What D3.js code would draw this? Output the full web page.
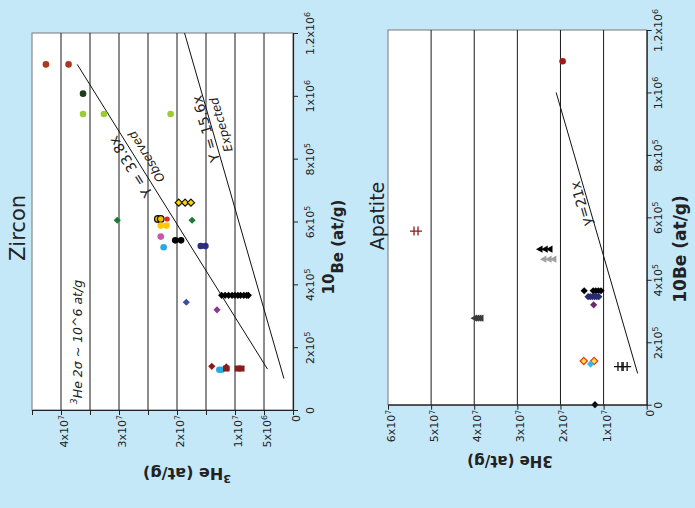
<!DOCTYPE html>
<html lang="en">
<head>
<meta charset="utf-8">
<title>Zircon / Apatite 3He vs 10Be</title>
<style>
  html, body {padding: 0; margin: 0; overflow: hidden; background: #c5e8f9}
  svg {display: block}
  text {font-family: "DejaVu Sans", sans-serif; fill: #222}
</style>
</head>
<body>
<svg width="695" height="508"></svg>
<script src="https://d3js.org/d3.v7.min.js"></script>
<script>

// ---- data: [3He (at/g), 10Be (at/g)] ----
var zrBrown      = [[4.26e7, 1.10e6], [3.87e7, 1.10e6]];
var zrDarkGreen  = [[3.62e7, 1.007e6]];
var zrLime       = [[3.62e7, 9.42e5], [3.26e7, 9.42e5], [2.11e7, 9.42e5]];
var zrYellowDia  = [[1.97e7, 6.6e5], [1.86e7, 6.6e5], [1.76e7, 6.6e5]];
var zrGreenDia   = [[3.03e7, 6.04e5], [1.74e7, 6.04e5]];
var zrYellowRing = [[2.33e7, 6.08e5], [2.28e7, 6.08e5]];
var zrRed        = [[2.17e7, 6.08e5]];
var zrGold       = [[2.28e7, 5.87e5], [2.18e7, 5.87e5]];
var zrPink       = [[2.28e7, 5.52e5]];
var zrBlack      = [[2.03e7, 5.4e5], [1.93e7, 5.4e5]];
var zrNavy       = [[1.59e7, 5.22e5], [1.51e7, 5.22e5]];
var zrSky        = [[2.23e7, 5.18e5], [1.27e7, 1.28e5], [1.23e7, 1.28e5]];
var zrBlueDia    = [[1.84e7, 3.43e5]];
var zrPurpleDia  = [[1.31e7, 3.19e5]];
var zrBlackDia   = [[1.23e7, 3.65e5], [1.17e7, 3.65e5], [1.11e7, 3.65e5], [1.05e7, 3.65e5], [1.0e7, 3.65e5],
                    [9.5e6, 3.65e5], [9.05e6, 3.65e5], [8.5e6, 3.65e5], [8.0e6, 3.65e5], [7.7e6, 3.65e5]];
var zrMaroonDia  = [[1.40e7, 1.39e5]];
var zrMaroonTri  = [[1.15e7, 1.36e5]];
var zrMaroonSq   = [[1.15e7, 1.32e5], [9.5e6, 1.32e5], [8.9e6, 1.32e5]];
var zrObserved   = [[4.39e6, 1.3e5], [3.72e7, 1.1e6]];
var zrExpected   = [[1.56e6, 1.0e5], [1.87e7, 1.2e6]];

var apMaroonDot  = [[1.95e7, 1.1e6]];
var apMaroonPlus = [[5.35e7, 5.56e5]];
var apBlackTri   = [[2.48e7, 4.98e5], [2.36e7, 4.98e5], [2.25e7, 4.98e5]];
var apGreyTri    = [[2.39e7, 4.66e5], [2.27e7, 4.66e5], [2.16e7, 4.66e5]];
var apDarkTri    = [[4.0e7, 2.77e5], [3.95e7, 2.77e5], [3.9e7, 2.77e5], [3.85e7, 2.77e5]];
var apBlackDia   = [[1.45e7, 3.65e5], [1.24e7, 3.65e5], [1.18e7, 3.65e5], [1.12e7, 3.65e5], [1.06e7, 3.65e5], [1.2e7, 0]];
var apNavyDia    = [[1.36e7, 3.46e5], [1.31e7, 3.46e5], [1.26e7, 3.46e5], [1.21e7, 3.46e5], [1.16e7, 3.46e5], [1.11e7, 3.46e5]];
var apPurpleDia  = [[1.23e7, 3.2e5]];
var apYellowDia  = [[1.46e7, 1.4e5], [1.22e7, 1.4e5]];
var apSkyDia     = [[1.3e7, 1.3e5]];
var apBlackPlus  = [[6.2e6, 1.22e5], [5.0e6, 1.22e5]];
var apFit        = [[2.1e6, 1.0e5], [2.1e7, 1.0e6]];

var zrHeTicks = [0, 5e6, 1e7, 1.5e7, 2e7, 2.5e7, 3e7, 3.5e7, 4e7, 4.5e7];
var zrHeLabels = [0, 5e6, 1e7, 2e7, 3e7, 4e7];
var apHeTicks = [0, 1e7, 2e7, 3e7, 4e7, 5e7, 6e7];
var beTicks = [0, 2e5, 4e5, 6e5, 8e5, 1e6, 1.2e6];

var svg = d3.select("svg");

function markerPath(shape) {
  switch (shape) {
    case "circle":  return "M3.3,0A3.3,3.3 0 1,1 -3.3,0A3.3,3.3 0 1,1 3.3,0Z";
    case "small":   return "M2.6,0A2.6,2.6 0 1,1 -2.6,0A2.6,2.6 0 1,1 2.6,0Z";
    case "diamond": return "M0,-3.6L3.6,0L0,3.6L-3.6,0Z";
    case "tri":     return "M-3.8,0L2.8,-3.6L2.8,3.6Z";
    case "house":   return "M-3.2,-0.5L0,-4L3.2,-0.5L3.2,3.5L-3.2,3.5Z";
    case "square":  return "M-3.2,-3L3.2,-3L3.2,3L-3.2,3Z";
    case "plus":    return "M-6,0L6,0M-2,-4.5L-2,4.5M2,-4.5L2,4.5";
  }
}

function superLabel(sel, v) {
  sel.text(null);
  if (v === 0) { sel.append("tspan").text("0"); return; }
  var e = Math.floor(Math.log10(v) + 1e-9);
  var m = +(v / Math.pow(10, e)).toFixed(1);
  sel.append("tspan").text(m + "x10");
  sel.append("tspan").attr("dy", "-0.45em").attr("font-size", "0.72em").text(e);
}

function panel(o) {
  var x = d3.scaleLinear().domain(o.heDomain).range(o.xRange);
  var y = d3.scaleLinear().domain([0, 1.2e6]).range(o.yRange);
  var g = svg.append("g");

  g.append("rect")
    .attr("x", o.xRange[1]).attr("y", o.yRange[1])
    .attr("width", o.xRange[0] - o.xRange[1]).attr("height", o.yRange[0] - o.yRange[1])
    .attr("fill", "#fff").attr("stroke", "#8a8a8a").attr("stroke-width", 1.2);

  g.selectAll("line.grid")
    .data(o.grid)
    .join("line")
    .attr("class", "grid")
    .attr("x1", function(d) { return x(d); }).attr("x2", function(d) { return x(d); })
    .attr("y1", o.yRange[0]).attr("y2", o.yRange[1])
    .attr("stroke", "#1a1a1a").attr("stroke-width", 1);

  // fit lines
  o.lines.forEach(function(l) {
    g.append("line")
      .attr("x1", x(l[0][0])).attr("y1", y(l[0][1]))
      .attr("x2", x(l[1][0])).attr("y2", y(l[1][1]))
      .attr("stroke", "#111").attr("stroke-width", 1);
  });

  // markers
  o.series.forEach(function(s) {
    g.selectAll(null)
      .data(s.data)
      .join("path")
      .attr("d", markerPath(s.shape))
      .attr("transform", function(d) { return "translate(" + x(d[0]) + "," + y(d[1]) + ")"; })
      .attr("fill", s.shape === "plus" ? "none" : s.fill)
      .attr("stroke", s.stroke || (s.shape === "plus" ? s.fill : "none"))
      .attr("stroke-width", s.sw || 1.3);
  });

  // bottom axis (3He)
  var ax = g.append("g")
    .attr("transform", "translate(0," + o.yRange[0] + ")")
    .call(d3.axisBottom(x).tickValues(o.heTicks).tickSize(5).tickSizeOuter(0).tickFormat(""));
  ax.selectAll(".tick text").each(function(d) {
    var t = d3.select(this);
    if (o.heLabels.indexOf(d) < 0) { t.remove(); return; }
    t.attr("transform", "translate(" + o.bx + ",5) rotate(-90)")
      .attr("y", 0).attr("dy", 0)
      .attr("text-anchor", "end").attr("fill", "#222");
    superLabel(t, d);
  });

  // right axis (10Be)
  var ay = g.append("g")
    .attr("transform", "translate(" + o.xRange[0] + ",0)")
    .call(d3.axisRight(y).tickValues(beTicks).tickSize(5).tickSizeOuter(0).tickFormat(""));
  ay.selectAll(".tick text").each(function(d) {
    var t = d3.select(this);
    t.attr("transform", "translate(" + o.rx + ",0) rotate(-90)")
      .attr("x", 0).attr("dy", 0)
      .attr("text-anchor", "middle").attr("fill", "#222");
    superLabel(t, d);
  });
  g.selectAll(".domain").attr("stroke", "#222").attr("stroke-width", 1.2);
  g.selectAll(".tick line").attr("stroke", "#222");
  g.selectAll(".tick text").attr("font-size", 11).attr("font-family", "DejaVu Sans, sans-serif");

  return {g: g, x: x, y: y};
}

function lineLabel(p, line, at, main, sub, mainSize, dyMain) {
  var x0 = p.x(line[0][0]), y0 = p.y(line[0][1]), x1 = p.x(line[1][0]), y1 = p.y(line[1][1]);
  var cx = x0 + (x1 - x0) * at, cy = y0 + (y1 - y0) * at;
  var ang = Math.atan2(y1 - y0, x1 - x0) * 180 / Math.PI;
  var t = p.g.append("g").attr("transform", "translate(" + cx + "," + cy + ") rotate(" + ang + ")");
  t.append("text").attr("text-anchor", "middle").attr("y", dyMain)
    .attr("font-size", mainSize).text(main);
  if (sub) {
    t.append("text").attr("text-anchor", "middle").attr("y", 14)
      .attr("font-size", 12).attr("font-style", "italic").attr("fill", "#333").text(sub);
  }
}

// ---- Zircon ----
var zr = panel({
  heDomain: [0, 4.5e7], xRange: [293, 32], yRange: [410, 33],
  grid: [5e6, 1e7, 1.5e7, 2e7, 2.5e7, 3e7, 3.5e7, 4e7],
  heTicks: zrHeTicks, heLabels: zrHeLabels, bx: 6.5, rx: 21,
  lines: [zrObserved, zrExpected],
  series: [
    {data: zrBrown, shape: "circle", fill: "#a8391e"},
    {data: zrDarkGreen, shape: "circle", fill: "#1e3b1c"},
    {data: zrLime, shape: "circle", fill: "#9acd32"},
    {data: zrYellowDia, shape: "diamond", fill: "#ffd200", stroke: "#111", sw: 1.2},
    {data: zrGreenDia, shape: "diamond", fill: "#1b7a3a"},
    {data: zrYellowRing, shape: "circle", fill: "#f4c300", stroke: "#111", sw: 1.2},
    {data: zrRed, shape: "small", fill: "#e8202a"},
    {data: zrGold, shape: "circle", fill: "#ffc800"},
    {data: zrPink, shape: "circle", fill: "#c956a8"},
    {data: zrBlack, shape: "circle", fill: "#000"},
    {data: zrNavy, shape: "circle", fill: "#2d2f7e"},
    {data: zrSky, shape: "circle", fill: "#29a9e1"},
    {data: zrBlueDia, shape: "diamond", fill: "#3a4ea8"},
    {data: zrPurpleDia, shape: "diamond", fill: "#8e3896"},
    {data: zrBlackDia, shape: "diamond", fill: "#000"},
    {data: zrMaroonDia, shape: "diamond", fill: "#8b1c1c"},
    {data: zrMaroonTri, shape: "house", fill: "#8b1c1c"},
    {data: zrMaroonSq, shape: "square", fill: "#8b1c1c"}
  ]
});

lineLabel(zr, zrObserved, 0.68, "Y = 33.8x", "Observed", 14, -4);
lineLabel(zr, zrExpected, 0.727, "Y = 15.6x", "Expected", 14, -1);

zr.g.append("text")
  .attr("transform", "translate(25,228) rotate(-90)")
  .attr("text-anchor", "middle").attr("font-size", 21).text("Zircon");

var sig = zr.g.append("text")
  .attr("transform", "translate(81,342) rotate(-90)")
  .attr("text-anchor", "middle").attr("font-size", 12.5)
  .attr("font-style", "italic").attr("fill", "#333")
  .attr("font-family", "Open Sans, sans-serif");
sig.append("tspan").attr("dy", "-0.4em").attr("font-size", "0.75em").text("3");
sig.append("tspan").attr("dy", "0.4em").text("He 2σ ~ 10^6 at/g");

var zBe = zr.g.append("text")
  .attr("transform", "translate(343,247) rotate(-90)")
  .attr("text-anchor", "middle").attr("font-size", 15).attr("font-weight", "bold");
zBe.append("tspan").attr("dy", "-0.6em").text("10");
zBe.append("tspan").attr("dy", "0.6em").text("Be (at/g)");

var zHe = zr.g.append("text")
  .attr("transform", "translate(187,470) rotate(180)")
  .attr("text-anchor", "middle").attr("font-size", 16).attr("font-weight", "bold");
zHe.append("tspan").attr("dy", "-0.45em").attr("font-size", "0.7em").text("3");
zHe.append("tspan").attr("dy", "0.45em").text("He (at/g)");

// ---- Apatite ----
var ap = panel({
  heDomain: [0, 6e7], xRange: [646.7, 388], yRange: [404.7, 30],
  grid: [1e7, 2e7, 3e7, 4e7, 5e7],
  heTicks: apHeTicks, heLabels: apHeTicks, bx: 6.5, rx: 15,
  lines: [apFit],
  series: [
    {data: apMaroonDot, shape: "circle", fill: "#a01a1a"},
    {data: apMaroonPlus, shape: "plus", fill: "#8b1c1c"},
    {data: apGreyTri, shape: "tri", fill: "#a0a0a0"},
    {data: apBlackTri, shape: "tri", fill: "#000"},
    {data: apDarkTri, shape: "tri", fill: "#3a3a3a"},
    {data: apBlackDia, shape: "diamond", fill: "#000"},
    {data: apNavyDia, shape: "diamond", fill: "#2a2c72"},
    {data: apPurpleDia, shape: "diamond", fill: "#6c2a6e"},
    {data: apYellowDia, shape: "diamond", fill: "#ffe24a", stroke: "#ea3a1e", sw: 1.3},
    {data: apSkyDia, shape: "diamond", fill: "#38b6e8"},
    {data: apBlackPlus, shape: "plus", fill: "#111"}
  ]
});

lineLabel(ap, apFit, 0.611, "y=21x", null, 14, -2);

ap.g.append("text")
  .attr("transform", "translate(384,216) rotate(-90)")
  .attr("text-anchor", "middle").attr("font-size", 19).text("Apatite");

ap.g.append("text")
  .attr("transform", "translate(686,249) rotate(-90)")
  .attr("text-anchor", "middle").attr("font-size", 17).attr("font-weight", "bold")
  .text("10Be (at/g)");

ap.g.append("text")
  .attr("transform", "translate(510,456) rotate(180)")
  .attr("text-anchor", "middle").attr("font-size", 15).attr("font-weight", "bold")
  .text("3He (at/g)");

</script>
</body>
</html>
